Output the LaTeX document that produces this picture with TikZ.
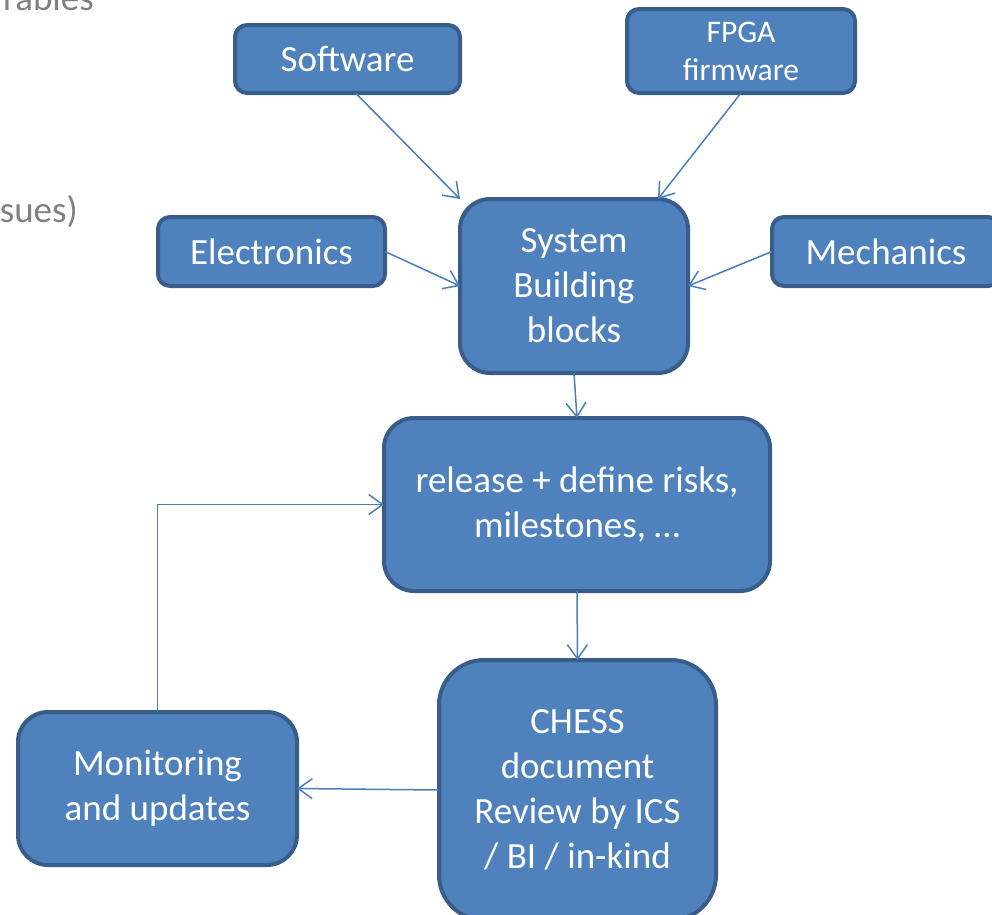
\documentclass[tikz,border=0pt]{standalone}
\usepackage{fontspec}
\setmainfont{Carlito}
\usetikzlibrary{arrows.meta}
\definecolor{boxfill}{HTML}{4F81BD}
\definecolor{boxline}{HTML}{385D8A}
\definecolor{arrowc}{HTML}{4A7EBB}
\definecolor{greytxt}{HTML}{808080}
\tikzset{
  blk/.style={draw=boxline, fill=boxfill, line width=4pt, text=white, align=center,
    inner sep=0pt, outer sep=0pt, font=\fontsize{37}{45}\selectfont},
  smallr/.style={rounded corners=12pt},
  bigr/.style={rounded corners=30pt},
  conn/.style={draw=arrowc, line width=1.5pt, -{Straight Barb[length=14pt,width=20pt,line width=1.5pt]}},
  ghost/.style={text=greytxt, inner sep=0pt, font=\fontsize{37}{45}\selectfont}
}
\begin{document}
\begin{tikzpicture}[x=1pt,y=-1pt]
\useasboundingbox (0,0) rectangle (992,914);
\clip (0,0) rectangle (992,914);

\node[ghost, anchor=base east] (g1) at (94,10) {rables};
\node[ghost, anchor=base east] (g2) at (78,222) {sues)};

\node[blk, smallr, minimum width=225pt, minimum height=68pt] (sw) at (347.5,59) {Software};
\node[blk, smallr, minimum width=228pt, minimum height=84pt, font=\fontsize{31.5}{38}\selectfont] (fpga) at (741,51) {FPGA\\firmware};
\node[blk, smallr, minimum width=227pt, minimum height=69pt] (elec) at (271.5,251.5) {Electronics};
\node[blk, smallr, minimum width=228pt, minimum height=69pt] (mech) at (886,251.5) {Mechanics};
\node[blk, bigr, minimum width=228pt, minimum height=174pt] (sys) at (574,286) {System\\Building\\blocks};
\node[blk, bigr, minimum width=386pt, minimum height=173pt] (rel) at (577,504.5) {release + define risks,\\milestones, …};
\node[blk, bigr, minimum width=279pt, minimum height=153pt] (mon) at (157.5,788.5) {Monitoring\\and updates};
\node[blk, rounded corners=45pt, minimum width=277pt, minimum height=260pt] (chess) at (577.5,790) {CHESS\\document\\Review by ICS\\/ BI / in-kind};

\draw[conn] ([xshift=8pt]sw.south) -- (sys.north west);
\draw[conn] (fpga.south) -- ([xshift=-30pt]sys.north east);
\draw[conn] (elec.east) -- (sys.west);
\draw[conn] (mech.west) -- (sys.east);
\draw[conn] (sys.south) -- (rel.north);
\draw[conn] (rel.south) -- (chess.north);
\draw[conn] (chess.west) -- (mon.east);
\draw[conn] (mon.north) |- (rel.west);
\end{tikzpicture}
\end{document}
